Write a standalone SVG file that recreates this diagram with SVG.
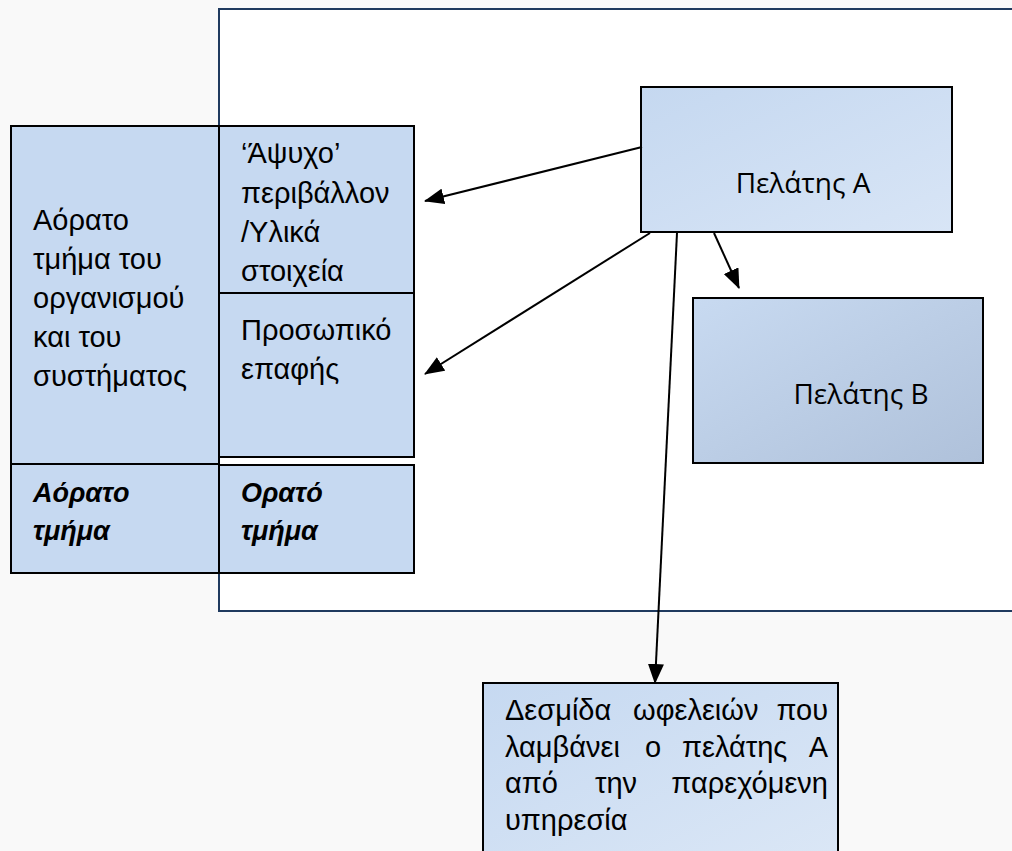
<svg xmlns="http://www.w3.org/2000/svg" width="1012" height="851" viewBox="0 0 1012 851">
<style>
.box{stroke:#000;stroke-width:2}
.t{font-family:"Liberation Sans",Arial,sans-serif;font-size:29px;fill:#000}
.bi{font-weight:bold;font-style:italic;font-size:27px}
.o{font-family:"Open Sans","DejaVu Sans",sans-serif;font-size:28px;fill:#000;text-anchor:middle}
.c{stroke:#000;stroke-width:2;fill:none;marker-end:url(#ah)}
</style>
<defs>
<linearGradient id="gA" x1="0" y1="0" x2="1" y2="1"><stop offset="0" stop-color="#c5d8f0"/><stop offset="1" stop-color="#d8e5f6"/></linearGradient>
<linearGradient id="gB" x1="0" y1="0" x2="1" y2="1"><stop offset="0" stop-color="#c8daf1"/><stop offset="1" stop-color="#afc1da"/></linearGradient>
<linearGradient id="gD" x1="0" y1="0" x2="1" y2="1"><stop offset="0" stop-color="#c6d9f1"/><stop offset="1" stop-color="#dbe7f6"/></linearGradient>
<marker id="ah" markerUnits="userSpaceOnUse" markerWidth="20" markerHeight="16" viewBox="0 0 20 16" refX="19" refY="8" orient="auto"><path d="M0,0 L20,8 L0,16 Z" fill="#000"/></marker>
</defs>
<rect x="0" y="0" width="1012" height="851" fill="#f9f9f9"/>
<g id="frame"><rect x="219" y="9" width="810" height="602" fill="#fff" stroke="#1f3a5f" stroke-width="2"/></g>
<g id="invisible-part">
<rect class="box" x="11" y="126" width="208" height="338" fill="#c6d9f1"/>
<text class="t"><tspan x="33" y="230">Αόρατο</tspan><tspan x="33" y="269">τμήμα του</tspan><tspan x="33" y="308">οργανισμού</tspan><tspan x="33" y="347">και του</tspan><tspan x="33" y="386">συστήματος</tspan></text>
</g>
<g id="inanimate">
<rect class="box" x="219" y="126" width="195" height="167" fill="#c6d9f1"/>
<text class="t"><tspan x="241" y="163">‘Άψυχο’</tspan><tspan x="241" y="203">περιβάλλον</tspan><tspan x="241" y="242">/Υλικά</tspan><tspan x="241" y="281">στοιχεία</tspan></text>
</g>
<g id="contact-staff">
<rect class="box" x="219" y="293" width="195" height="164" fill="#c6d9f1"/>
<text class="t"><tspan x="241" y="340">Προσωπικό</tspan><tspan x="241" y="379">επαφής</tspan></text>
</g>
<g id="invisible-label">
<rect class="box" x="11" y="464" width="208" height="109" fill="#c6d9f1"/>
<text class="t bi"><tspan x="33" y="502">Αόρατο</tspan><tspan x="33" y="540">τμήμα</tspan></text>
</g>
<g id="visible-label">
<rect class="box" x="219" y="465" width="195" height="108" fill="#c6d9f1"/>
<text class="t bi"><tspan x="241" y="502">Ορατό</tspan><tspan x="241" y="540">τμήμα</tspan></text>
</g>
<g id="customer-a">
<rect class="box" x="641" y="87" width="311" height="145" fill="url(#gA)"/>
<text class="o" x="803" y="193">Πελάτης Α</text>
</g>
<g id="customer-b">
<rect class="box" x="693" y="298" width="290" height="165" fill="url(#gB)"/>
<text class="o" x="861" y="404">Πελάτης Β</text>
</g>
<g id="benefits">
<rect class="box" x="483" y="683" width="355" height="180" fill="url(#gD)"/>
<text class="t"><tspan x="505" y="720">Δεσμίδα</tspan><tspan x="633" y="720">ωφελειών</tspan><tspan x="828" y="720" text-anchor="end">που</tspan></text>
<text class="t"><tspan x="505" y="757">λαμβάνει</tspan><tspan x="645" y="757">ο</tspan><tspan x="682" y="757">πελάτης</tspan><tspan x="828" y="757" text-anchor="end">Α</tspan></text>
<text class="t"><tspan x="505" y="793">από</tspan><tspan x="595" y="793">την</tspan><tspan x="828" y="793" text-anchor="end">παρεχόμενη</tspan></text>
<text class="t"><tspan x="505" y="830">υπηρεσία</tspan></text>
</g>
<g id="connectors">
<line class="c" x1="642" y1="147" x2="425" y2="201"/>
<line class="c" x1="650" y1="233" x2="425" y2="374"/>
<line class="c" x1="714" y1="233" x2="739" y2="288"/>
<line class="c" x1="677" y1="233" x2="655" y2="683"/>
</g>
</svg>
